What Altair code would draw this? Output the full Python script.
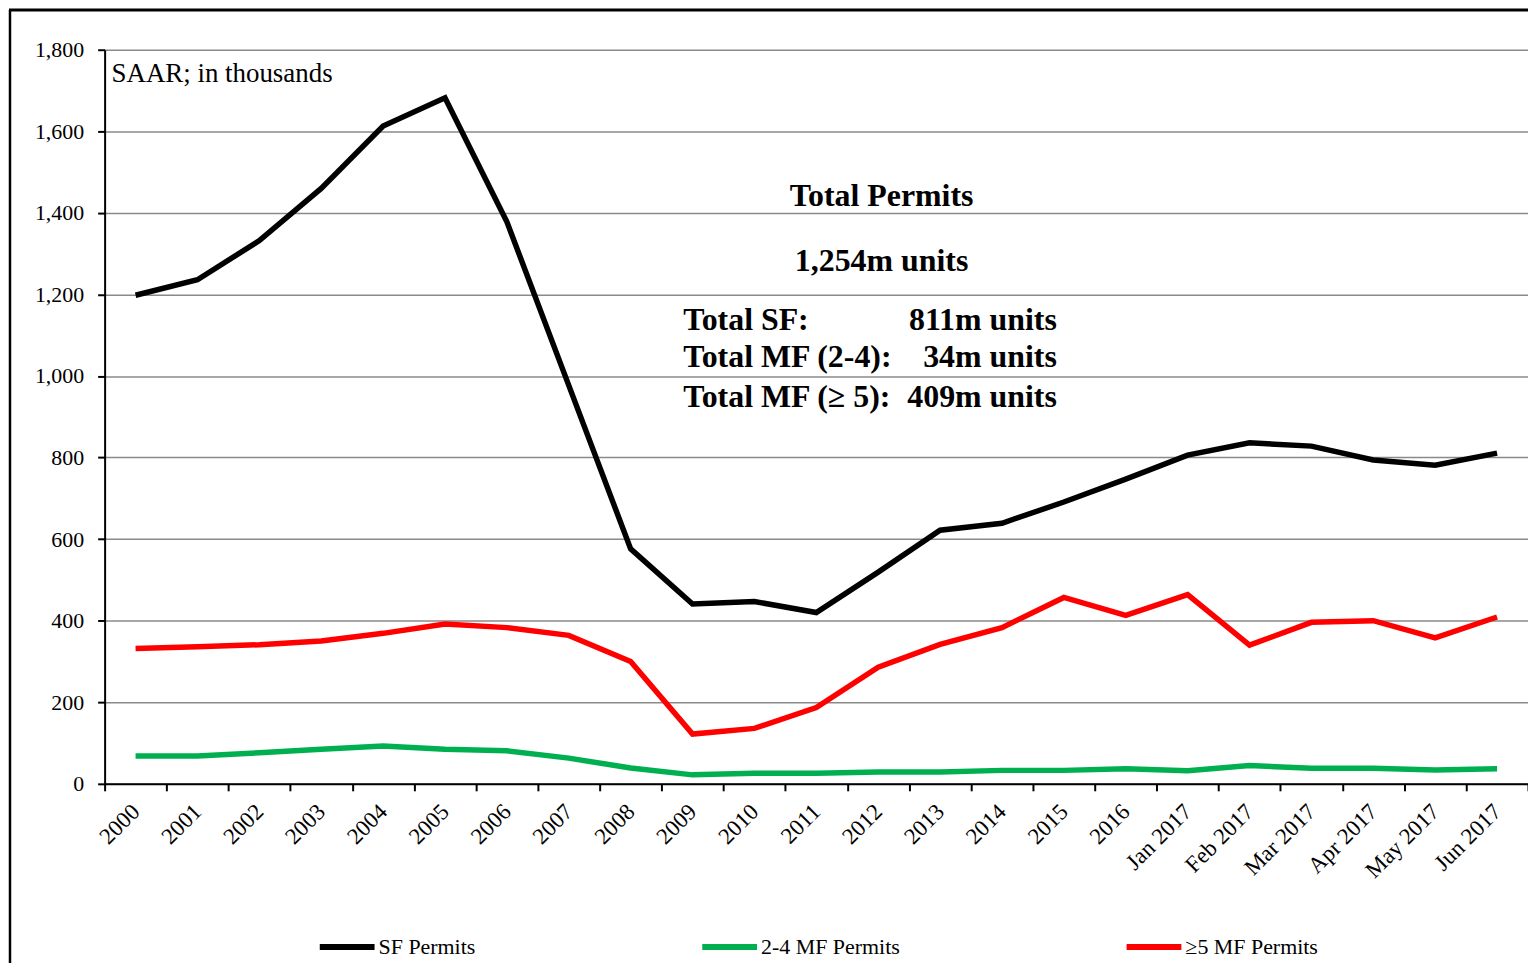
import altair as alt
import pandas as pd

categories = ["2000", "2001", "2002", "2003", "2004", "2005", "2006", "2007", "2008",
              "2009", "2010", "2011", "2012", "2013", "2014", "2015", "2016",
              "Jan 2017", "Feb 2017", "Mar 2017", "Apr 2017", "May 2017", "Jun 2017"]

sf_permits = [1198, 1236, 1332, 1460, 1613, 1682, 1378, 977, 576, 441, 447, 420, 519,
              622, 639, 691, 747, 806, 836, 828, 794, 781, 811]
mf_2_4 = [68, 68, 76, 85, 93, 85, 81, 63, 39, 22, 26, 26, 29, 29, 33, 33, 37,
          32, 45, 38, 38, 34, 37]
mf_5plus = [332, 336, 341, 350, 369, 392, 383, 364, 300, 122, 136, 187, 286, 342, 383,
            457, 413, 464, 340, 396, 400, 358, 409]

series_names = ["SF Permits", "2-4 MF Permits", "\u22655 MF Permits"]
series_colors = ["#000000", "#00B050", "#FF0000"]

y_ticks = [0, 200, 400, 600, 800, 1000, 1200, 1400, 1600, 1800]

rows = []
for name, vals in zip(series_names, [sf_permits, mf_2_4, mf_5plus]):
    for c, v in zip(categories, vals):
        rows.append({"period": c, "value": v, "series": name})
df = pd.DataFrame(rows)

FONT = "Liberation Serif"
W, H = 1429, 737

lines = alt.Chart(df).mark_line(strokeWidth=5.5, strokeCap="butt", strokeJoin="miter").encode(
    x=alt.X("period:N", sort=categories,
            scale=alt.Scale(type="band", paddingInner=0, paddingOuter=0),
            axis=alt.Axis(title=None, labelAngle=-45, labelAlign="right", labelBaseline="middle",
                          tickBand="extent", labelFont=FONT, labelFontSize=23,
                          labelColor="black", domainColor="black", domainWidth=2,
                          tickColor="black", tickWidth=2, tickSize=7, labelPadding=17,
                          grid=False)),
    y=alt.Y("value:Q", scale=alt.Scale(domain=[0, 1800], nice=False),
            axis=alt.Axis(title=None, values=y_ticks, format=",.0f", labelFont=FONT,
                          labelFontSize=22, labelColor="black", domainColor="black",
                          domainWidth=2, tickColor="black", tickWidth=2, tickSize=7,
                          labelPadding=14, grid=True, gridColor="#8a8a8a",
                          gridWidth=1.5)),
    color=alt.Color("series:N", sort=series_names,
                    scale=alt.Scale(domain=series_names, range=series_colors),
                    legend=alt.Legend(title=None, orient="none", legendX=213, legendY=870,
                                      direction="horizontal", columns=3, columnPadding=215,
                                      padding=0, rowPadding=0,
                                      symbolType="stroke", symbolSize=3025,
                                      symbolStrokeWidth=6, labelFont=FONT,
                                      labelFontSize=22, labelColor="black",
                                      labelOffset=1, symbolOffset=0)),
    detail="series:N",
)

saar_text = "SAAR; in thousands"
title_text = "Total Permits"
total_text = "1,254m units"
row_labels = ["Total SF:", "Total MF (2-4):", "Total MF (\u2265 5):"]
row_values = ["811m units", "34m units", "409m units"]

frame = pd.DataFrame({"k": [0]})
layers = [lines]
layers.append(alt.Chart(frame).mark_rule(color="black", strokeWidth=2.5).encode(
    x=alt.value(-95), y=alt.value(-40), y2=alt.value(H + 180)))
layers.append(alt.Chart(frame).mark_rule(color="black", strokeWidth=3).encode(
    x=alt.value(-96), x2=alt.value(W), y=alt.value(-40)))
layers.append(alt.Chart(pd.DataFrame({"t": [saar_text]})).mark_text(
    font=FONT, fontSize=27, align="left", baseline="middle", color="black").encode(
    text="t:N", x=alt.value(7), y=alt.value(24)))
layers.append(alt.Chart(pd.DataFrame({"t": [title_text]})).mark_text(
    font=FONT, fontSize=32, fontWeight="bold", align="center", baseline="middle",
    color="black").encode(text="t:N", x=alt.value(780), y=alt.value(147)))
layers.append(alt.Chart(pd.DataFrame({"t": [total_text]})).mark_text(
    font=FONT, fontSize=32, fontWeight="bold", align="center", baseline="middle",
    color="black").encode(text="t:N", x=alt.value(780), y=alt.value(212)))
for i, (lab, val) in enumerate(zip(row_labels, row_values)):
    yy = [271, 309, 349][i]
    layers.append(alt.Chart(pd.DataFrame({"t": [lab]})).mark_text(
        font=FONT, fontSize=32, fontWeight="bold", align="left", baseline="middle",
        color="black").encode(text="t:N", x=alt.value(581), y=alt.value(yy)))
    layers.append(alt.Chart(pd.DataFrame({"t": [val]})).mark_text(
        font=FONT, fontSize=32, fontWeight="bold", align="right", baseline="middle",
        color="black").encode(text="t:N", x=alt.value(956), y=alt.value(yy)))

chart = alt.layer(*layers).properties(
    width=W, height=H,
    autosize=alt.AutoSizeParams(type="none"),
    padding={"left": 97, "top": 40, "right": 0, "bottom": 180},
    background="white",
).configure_view(stroke=None)

chart.save("out.html", embed_options={"renderer": "svg", "actions": False})
